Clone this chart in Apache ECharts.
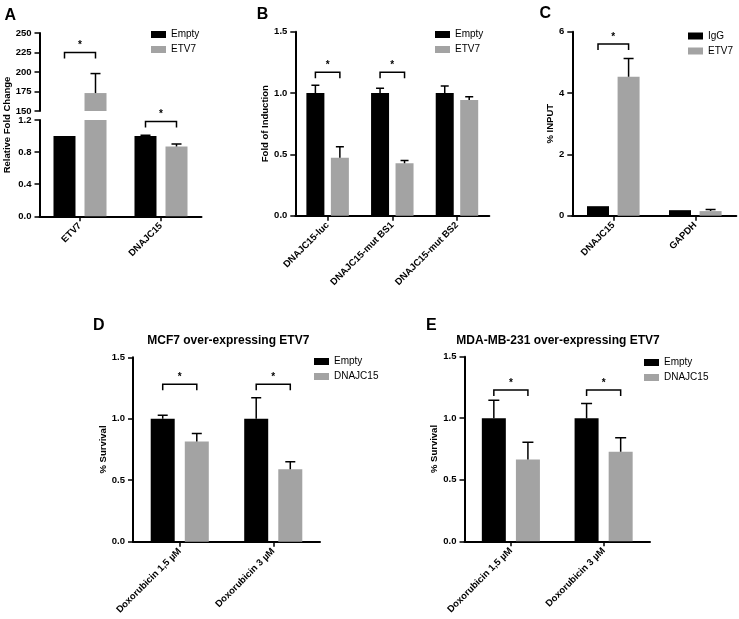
<!DOCTYPE html>
<html><head><meta charset="utf-8">
<script src="https://cdn.jsdelivr.net/npm/echarts@6/dist/echarts.min.js"></script>
<style>html,body{margin:0;padding:0;background:#fff}#c{width:739px;height:619px}</style>
</head><body><div id="c"></div>
<script>
// ---------- Panel A ----------
const catA = ['ETV7', 'DNAJC15'];
const aEmpty = [1.0, 1.0];
const aEmptySD = [0, 0.01];
const aETV7 = [173, 0.87];
const aETV7SD = [25, 0.03];
const aSig = [225, 1.18];
const aTicksUpper = [150, 175, 200, 225, 250];
const aTicksLower = [0.0, 0.4, 0.8, 1.2];
// ---------- Panel B ----------
const catB = ['DNAJC15-luc', 'DNAJC15-mut BS1', 'DNAJC15-mut BS2'];
const bEmpty = [1.0, 1.0, 1.0];
const bEmptySD = [0.063, 0.04, 0.057];
const bETV7 = [0.473, 0.427, 0.943];
const bETV7SD = [0.089, 0.023, 0.027];
const bSig = [1.17, 1.17, null];
const bTicks = [0.0, 0.5, 1.0, 1.5];
// ---------- Panel C ----------
const catC = ['DNAJC15', 'GAPDH'];
const cIgG = [0.31, 0.18];
const cIgGSD = [0.01, 0.01];
const cETV7 = [4.53, 0.15];
const cETV7SD = [0.6, 0.05];
const cSig = [5.6, null];
const cTicks = [0, 2, 4, 6];
// ---------- Panel D ----------
const catD = ['Doxorubicin 1,5 µM', 'Doxorubicin 3 µM'];
const dEmpty = [1.0, 1.0];
const dEmptySD = [0.028, 0.171];
const dDNAJC15 = [0.815, 0.59];
const dDNAJC15SD = [0.066, 0.06];
const dSig = [1.28, 1.28];
const dTicks = [0.0, 0.5, 1.0, 1.5];
// ---------- Panel E ----------
const catE = ['Doxorubicin 1,5 µM', 'Doxorubicin 3 µM'];
const eEmpty = [1.0, 1.0];
const eEmptySD = [0.146, 0.119];
const eDNAJC15 = [0.665, 0.728];
const eDNAJC15SD = [0.14, 0.114];
const eSig = [1.23, 1.23];
const eTicks = [0.0, 0.5, 1.0, 1.5];

const FONT = '"Liberation Sans", Arial, Helvetica, sans-serif';
const BLACK = '#000000';
const GRAY = '#a3a3a3';

const axisLineS = {show: true, lineStyle: {color: '#000', width: 2}};
const tickS = {show: true, length: 5, lineStyle: {color: '#000', width: 1.5}};

function yAx(gi, ticks, dec, name, nameGap) {
  return {
    type: 'value', gridIndex: gi,
    min: ticks[0], max: ticks[ticks.length - 1], interval: ticks[1] - ticks[0],
    axisLine: axisLineS, axisTick: tickS, splitLine: {show: false},
    axisLabel: {color: '#000', fontFamily: FONT, fontWeight: 'bold', fontSize: 9.5, margin: 8,
      formatter: v => Number(v).toFixed(dec)},
    name: name || '', nameLocation: 'middle', nameGap: nameGap || 0,
    nameTextStyle: {color: '#000', fontFamily: FONT, fontWeight: 'bold', fontSize: 9.5}
  };
}
function xAx(gi, cats, show) {
  return {
    type: 'category', gridIndex: gi, data: cats, show: show,
    axisLine: axisLineS, axisTick: Object.assign({alignWithLabel: true}, tickS),
    axisLabel: {rotate: 45, interval: 0, margin: 8, color: '#000', fontFamily: FONT, fontWeight: 'bold', fontSize: 9.5},
    splitLine: {show: false}
  };
}

function bar(name, idx, data, color, width, gap) {
  return {type: 'bar', name: name, xAxisIndex: idx, yAxisIndex: idx, data: data,
    barWidth: width, barGap: gap, clip: true, itemStyle: {color: color}, z: 2,
    emphasis: {disabled: true}};
}
function errBars(idx, means, sds, offset, capW) {
  return {
    type: 'custom', name: 'err' + idx + offset, xAxisIndex: idx, yAxisIndex: idx, clip: true, z: 3,
    data: means.map((m, i) => [i, m, m + sds[i]]),
    renderItem: function (params, api) {
      const lo = api.coord([api.value(0), api.value(1)]);
      const hi = api.coord([api.value(0), api.value(2)]);
      if (Math.abs(lo[1] - hi[1]) < 0.5) return null;
      const x = lo[0] + offset;
      return {type: 'group', children: [
        {type: 'line', shape: {x1: x, y1: lo[1], x2: x, y2: hi[1]}, style: {stroke: '#000', lineWidth: 1.5}},
        {type: 'line', shape: {x1: x - capW / 2, y1: hi[1], x2: x + capW / 2, y2: hi[1]}, style: {stroke: '#000', lineWidth: 1.5}}
      ]};
    }
  };
}
function sigBrackets(idx, levels, half) {
  const data = [];
  levels.forEach((l, i) => { if (l != null) data.push([i, l]); });
  return {
    type: 'custom', name: 'sig' + idx, xAxisIndex: idx, yAxisIndex: idx, clip: false, z: 4,
    data: data,
    renderItem: function (params, api) {
      const c = api.coord([api.value(0), api.value(1)]);
      const cs = params.coordSys;
      if (c[1] < cs.y - 3 || c[1] > cs.y + cs.height) return null;
      const x1 = c[0] - half, x2 = c[0] + half, y = c[1];
      return {type: 'group', children: [
        {type: 'polyline', shape: {points: [[x1, y + 6], [x1, y], [x2, y], [x2, y + 6]]},
          style: {stroke: '#000', lineWidth: 1.5, fill: null}},
        {type: 'text', x: c[0], y: y - 7,
          style: {text: '*', font: 'bold 10px ' + FONT, fill: '#000', align: 'center', verticalAlign: 'middle'}}
      ]};
    }
  };
}

const grids = [
  {left: 39.5, top: 33, width: 162, height: 78},        // A upper
  {left: 39.5, top: 120, width: 162, height: 96.3},     // A lower
  {left: 295.3, top: 31.7, width: 194, height: 184},    // B
  {left: 572.3, top: 31.7, width: 164, height: 184},    // C
  {left: 133, top: 357.3, width: 187, height: 184.4},   // D
  {left: 464.5, top: 356.7, width: 185.5, height: 184.6} // E
];

const xAxes = [
  xAx(0, catA, false), xAx(1, catA, true), xAx(2, catB, true),
  xAx(3, catC, true), xAx(4, catD, true), xAx(5, catE, true)
];
const yAxes = [
  yAx(0, aTicksUpper, 0), yAx(1, aTicksLower, 1),
  yAx(2, bTicks, 1, 'Fold of Induction', 24.5),
  yAx(3, cTicks, 0, '% INPUT', 15.5),
  yAx(4, dTicks, 1, '% Survival', 23.5),
  yAx(5, eTicks, 1, '% Survival', 23)
];

const oA = 15.5, oB = 12.24, oC = 15.29, oD = 17.04;
const series = [];
[0, 1].forEach(g => {
  series.push(bar('Empty', g, aEmpty, BLACK, 22, '41%'));
  series.push(bar('ETV7', g, aETV7, GRAY, 22, '41%'));
  series.push(errBars(g, aEmpty, aEmptySD, -oA, 10));
  series.push(errBars(g, aETV7, aETV7SD, oA, 10));
  series.push(sigBrackets(g, aSig, oA));
});
series.push(bar('Empty', 2, bEmpty, BLACK, 18, '36%'));
series.push(bar('ETV7', 2, bETV7, GRAY, 18, '36%'));
series.push(errBars(2, bEmpty, bEmptySD, -oB, 8));
series.push(errBars(2, bETV7, bETV7SD, oB, 8));
series.push(sigBrackets(2, bSig, oB));

series.push(bar('IgG', 3, cIgG, BLACK, 22, '39%'));
series.push(bar('ETV7', 3, cETV7, GRAY, 22, '39%'));
series.push(errBars(3, cIgG, cIgGSD, -oC, 10));
series.push(errBars(3, cETV7, cETV7SD, oC, 10));
series.push(sigBrackets(3, cSig, oC));

series.push(bar('Empty', 4, dEmpty, BLACK, 24, '42%'));
series.push(bar('DNAJC15', 4, dDNAJC15, GRAY, 24, '42%'));
series.push(errBars(4, dEmpty, dEmptySD, -oD, 10));
series.push(errBars(4, dDNAJC15, dDNAJC15SD, oD, 10));
series.push(sigBrackets(4, dSig, oD));

series.push(bar('Empty', 5, eEmpty, BLACK, 24, '42%'));
series.push(bar('DNAJC15', 5, eDNAJC15, GRAY, 24, '42%'));
series.push(errBars(5, eEmpty, eEmptySD, -oD, 11));
series.push(errBars(5, eDNAJC15, eDNAJC15SD, oD, 11));
series.push(sigBrackets(5, eSig, oD));

const legendCommon = {orient: 'vertical', padding: 0, itemWidth: 15, itemHeight: 7, itemGap: 5,
  icon: 'rect', selectedMode: false,
  textStyle: {color: '#000', fontFamily: FONT, fontSize: 10}};
const legends = [
  Object.assign({data: ['Empty', 'ETV7'], left: 151, top: 29.5}, legendCommon),
  Object.assign({data: ['Empty', 'ETV7'], left: 435, top: 29.5}, legendCommon),
  Object.assign({data: ['IgG', 'ETV7'], left: 688, top: 31}, legendCommon),
  Object.assign({data: ['Empty', 'DNAJC15'], left: 314, top: 356.5}, legendCommon),
  Object.assign({data: ['Empty', 'DNAJC15'], left: 644, top: 357.5}, legendCommon)
];

function txt(text, x, y, font, rot) {
  return {type: 'text', x: x, y: y, rotation: rot || 0,
    style: {text: text, font: font, fill: '#000', align: 'center', verticalAlign: 'middle'}};
}
const graphics = [
  txt('A', 10.3, 16, 'bold 16px ' + FONT),
  txt('B', 262.5, 14.5, 'bold 16px ' + FONT),
  txt('C', 545.3, 14, 'bold 16px ' + FONT),
  txt('D', 98.7, 326, 'bold 16px ' + FONT),
  txt('E', 431.3, 326, 'bold 16px ' + FONT),
  txt('MCF7 over-expressing ETV7', 228.3, 340.5, 'bold 12px ' + FONT),
  txt('MDA-MB-231 over-expressing ETV7', 558, 341, 'bold 12px ' + FONT),
  txt('Relative Fold Change', 7.5, 125, 'bold 9.5px ' + FONT, Math.PI / 2)
];

const chart = echarts.init(document.getElementById('c'), null, {renderer: 'canvas'});
chart.setOption({
  animation: false,
  backgroundColor: '#ffffff',
  grid: grids,
  xAxis: xAxes,
  yAxis: yAxes,
  legend: legends,
  tooltip: {show: false},
  series: series,
  graphic: graphics
});
</script>
</body></html>
